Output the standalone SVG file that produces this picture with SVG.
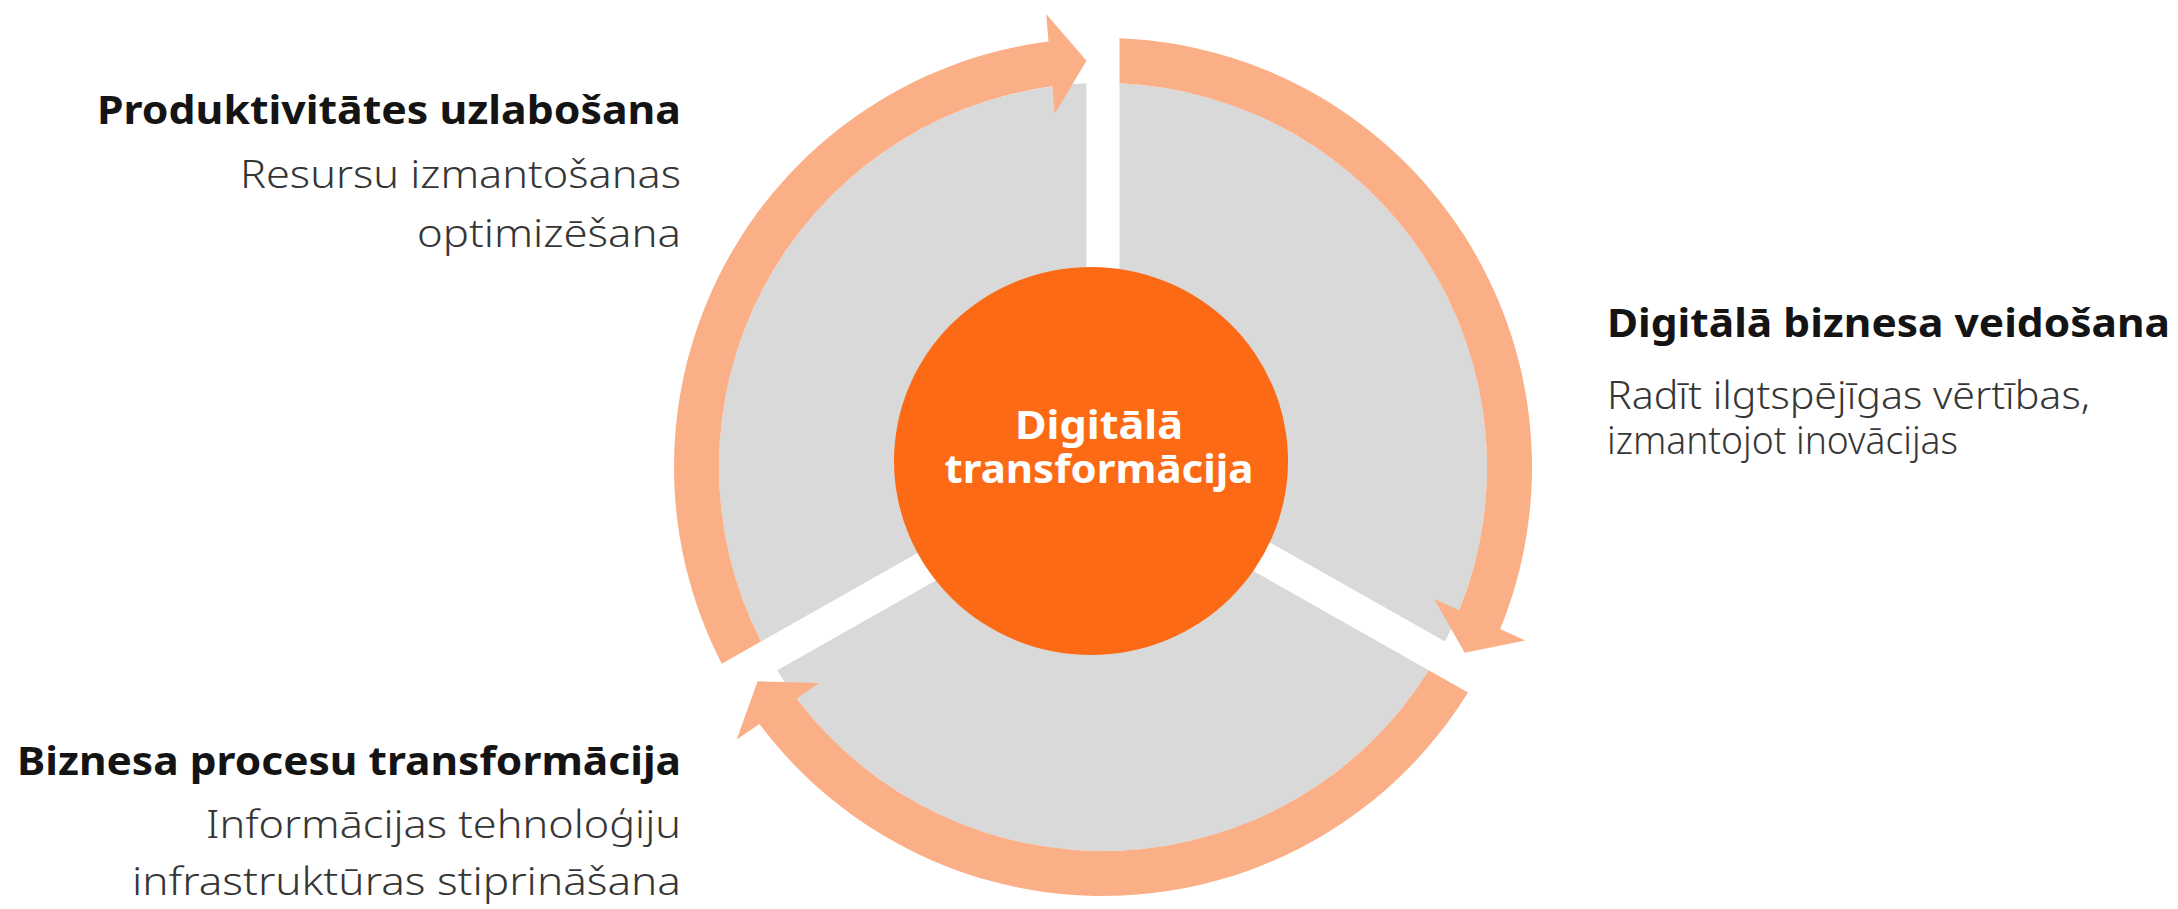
<svg xmlns="http://www.w3.org/2000/svg" width="2178" height="909" viewBox="0 0 2178 909">
  <style>
    .sector{fill:#d9d9d9}
    .arrow{fill:#fbaf87}
    .core{fill:#fd6a16}
    .core-text{font-family:"Noto Sans","Liberation Sans",sans-serif;font-weight:700;font-size:40px;fill:#ffffff;text-anchor:middle}
    .title{font-family:"Noto Sans","Liberation Sans",sans-serif;font-weight:700;font-size:40px;fill:#141414}
    .desc{font-family:"Noto Sans","Liberation Sans",sans-serif;font-weight:300;font-size:38px;fill:#363636}
    .end{text-anchor:end}
  </style>
  <rect width="2178" height="909" fill="#ffffff"/>

  <g id="sector-productivity">
    <path class="sector" d="M1086.5,457.4 L760.96,641.56 A384,384 0 0 1 1086.5,83.35 Z"/>
  </g>
  <g id="sector-digital-business">
    <path class="sector" d="M1119.5,457.4 L1119.5,83.35 A384,384 0 0 1 1445.04,641.56 Z"/>
  </g>
  <g id="sector-process">
    <path class="sector" d="M1103,486 L1428.78,670.28 A384,384 0 0 1 777.22,670.28 Z"/>
  </g>

  <g id="connectors">
    <path class="arrow" d="M721.76,663.73 A429,429 0 0 1 1048.52,41.49 L1046.19,14.09 L1086.5,60.84 L1054.67,113.73 L1052.34,86.33 A384,384 0 0 0 760.96,641.56 Z"/>
    <path class="arrow" d="M1119.5,38.3 A429,429 0 0 1 1500.17,629.10 L1525.18,640.56 L1464.64,652.64 L1434.26,598.90 L1459.27,610.36 A384,384 0 0 0 1119.5,83.35 Z"/>
    <path class="arrow" d="M1467.98,692.45 A429,429 0 0 1 759.43,723.88 L736.73,739.41 L757.62,681.36 L819.29,682.95 L796.59,698.48 A384,384 0 0 0 1428.78,670.28 Z"/>
  </g>

  <g id="center-node">
    <ellipse class="core" cx="1091" cy="461" rx="197" ry="194"/>
    <text class="core-text" x="1099" y="439" textLength="168" lengthAdjust="spacingAndGlyphs">Digitālā</text>
    <text class="core-text" x="1099" y="483" textLength="309" lengthAdjust="spacingAndGlyphs">transformācija</text>
  </g>

  <g id="label-productivity">
    <text class="title end" x="681" y="124" textLength="584" lengthAdjust="spacingAndGlyphs">Produktivitātes uzlabošana</text>
    <text class="desc end" x="681" y="188" textLength="441" lengthAdjust="spacingAndGlyphs">Resursu izmantošanas</text>
    <text class="desc end" x="681" y="247" textLength="264" lengthAdjust="spacingAndGlyphs">optimizēšana</text>
  </g>

  <g id="label-digital-business">
    <text class="title" x="1607" y="337" textLength="563" lengthAdjust="spacingAndGlyphs">Digitālā biznesa veidošana</text>
    <text class="desc" x="1607" y="409" textLength="483" lengthAdjust="spacingAndGlyphs">Radīt ilgtspējīgas vērtības,</text>
    <text class="desc" x="1607" y="454" textLength="351" lengthAdjust="spacingAndGlyphs">izmantojot inovācijas</text>
  </g>

  <g id="label-process">
    <text class="title end" x="681" y="775" textLength="664" lengthAdjust="spacingAndGlyphs">Biznesa procesu transformācija</text>
    <text class="desc end" x="681" y="838" textLength="475" lengthAdjust="spacingAndGlyphs">Informācijas tehnoloģiju</text>
    <text class="desc end" x="681" y="895" textLength="549" lengthAdjust="spacingAndGlyphs">infrastruktūras stiprināšana</text>
  </g>
</svg>
